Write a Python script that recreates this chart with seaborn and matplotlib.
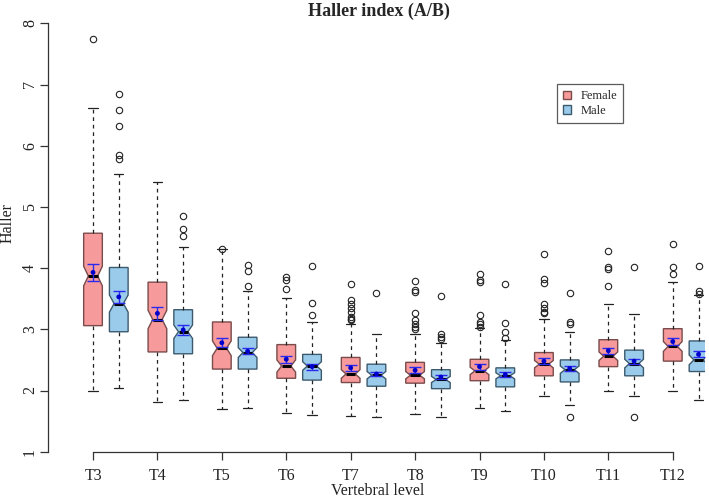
import numpy as np
import pandas as pd
import matplotlib
matplotlib.use("Agg")
import matplotlib.pyplot as plt
import seaborn as sns
from matplotlib.patches import Patch

levels = ["T3", "T4", "T5", "T6", "T7", "T8", "T9", "T10", "T11", "T12"]

# Female: box summary
f_q1 = [3.06, 2.63, 2.35, 2.20, 2.13, 2.12, 2.16, 2.24, 2.39, 2.48]
f_med = [3.87, 3.16, 2.69, 2.40, 2.27, 2.25, 2.32, 2.43, 2.56, 2.72]
f_q3 = [4.57, 3.77, 3.12, 2.75, 2.54, 2.46, 2.51, 2.62, 2.83, 3.01]
f_wlo = [2.00, 1.81, 1.69, 1.64, 1.58, 1.62, 1.72, 1.91, 1.99, 1.99]
f_whi = [6.61, 5.40, 4.32, 3.51, 3.09, 2.93, 3.02, 3.17, 3.41, 3.78]
f_notch = [0.16, 0.15, 0.12, 0.10, 0.07, 0.06, 0.06, 0.06, 0.07, 0.08]
f_mean = [3.93, 3.26, 2.78, 2.51, 2.37, 2.33, 2.39, 2.48, 2.65, 2.80]
f_err = [0.14, 0.11, 0.07, 0.06, 0.05, 0.05, 0.05, 0.05, 0.05, 0.06]
f_out = [
    [7.74],
    [],
    [4.32],
    [3.86, 3.81, 3.66],
    [3.74, 3.48, 3.42, 3.35, 3.28, 3.20, 3.17, 3.15],
    [3.79, 3.65, 3.61, 3.26, 3.15, 3.08, 3.04, 3.00],
    [3.90, 3.81, 3.78, 3.23, 3.12, 3.08, 3.04],
    [4.23, 3.83, 3.75, 3.41, 3.34, 3.29, 3.26],
    [4.28, 4.02, 3.98, 3.70],
    [4.40, 4.01, 3.91],
]

# Male
m_q1 = [2.96, 2.60, 2.35, 2.17, 2.07, 2.03, 2.06, 2.14, 2.24, 2.31]
m_med = [3.42, 2.96, 2.62, 2.40, 2.25, 2.18, 2.24, 2.34, 2.44, 2.50]
m_q3 = [4.01, 3.32, 2.87, 2.59, 2.43, 2.34, 2.37, 2.50, 2.66, 2.81]
m_wlo = [2.04, 1.85, 1.71, 1.60, 1.57, 1.57, 1.67, 1.76, 1.91, 1.85]
m_whi = [5.53, 4.34, 3.63, 3.12, 2.92, 2.77, 2.83, 2.96, 3.25, 3.56]
m_notch = [0.14, 0.11, 0.08, 0.07, 0.06, 0.05, 0.05, 0.06, 0.07, 0.08]
m_mean = [3.53, 2.99, 2.64, 2.39, 2.27, 2.22, 2.26, 2.36, 2.48, 2.59]
m_err = [0.10, 0.08, 0.05, 0.05, 0.04, 0.04, 0.04, 0.04, 0.04, 0.05]
m_out = [
    [6.84, 6.58, 6.32, 5.85, 5.78],
    [4.85, 4.64, 4.52],
    [4.05, 3.96, 3.70],
    [4.04, 3.43, 3.24],
    [3.60],
    [3.54, 2.92, 2.88, 2.84],
    [3.74, 3.10, 2.96, 2.86],
    [3.60, 3.12, 3.08, 1.57],
    [4.01, 1.56],
    [4.04, 3.62, 3.57],
]

female_col = "#F79A9B"
male_col = "#9BCBEA"
female_edge = "#7a4b4b"
male_edge = "#3c5a6e"


def make_stats(q1, med, q3, wlo, whi, notch, out):
    stats = []
    for i in range(len(q1)):
        stats.append(dict(q1=q1[i], med=med[i], q3=q3[i], whislo=wlo[i], whishi=whi[i],
                          cilo=med[i] - notch[i], cihi=med[i] + notch[i], fliers=out[i]))
    return stats


sns.set_theme(style="ticks")
plt.rcParams["font.family"] = ["Liberation Serif", "DejaVu Serif"]

fig = plt.figure(figsize=(7.09, 5.0), dpi=100)
ax = fig.add_axes([0.0673, 0.0966, 0.927, 0.8568])

pos_f = np.arange(1, len(levels) + 1)
pos_m = pos_f + 0.4

for stats, pos, fc, ec in [
    (make_stats(f_q1, f_med, f_q3, f_wlo, f_whi, f_notch, f_out), pos_f, female_col, female_edge),
    (make_stats(m_q1, m_med, m_q3, m_wlo, m_whi, m_notch, m_out), pos_m, male_col, male_edge),
]:
    ax.bxp(stats, positions=pos, widths=0.29, shownotches=True, patch_artist=True,
           showfliers=True, manage_ticks=False, capwidths=0.145,
           boxprops=dict(facecolor=fc, edgecolor=ec, linewidth=1.0),
           medianprops=dict(color="black", linewidth=2.2),
           whiskerprops=dict(color="#222222", linewidth=0.9, linestyle=(0, (3, 3))),
           capprops=dict(color="#222222", linewidth=0.9),
           flierprops=dict(marker="o", markerfacecolor="none", markeredgecolor="#222222",
                           markersize=4.6, markeredgewidth=0.8))

means = pd.DataFrame({
    "pos": np.concatenate([pos_f, pos_m]),
    "mean": f_mean + m_mean,
    "err": f_err + m_err,
})
ax.errorbar(means["pos"], means["mean"], yerr=means["err"], fmt="none",
            ecolor="#2a2aee", elinewidth=1.0, capsize=4.6, capthick=1.0, zorder=5)
sns.scatterplot(data=means, x="pos", y="mean", ax=ax, color="#0000cc", marker="o",
                s=12, edgecolor="none", zorder=6, legend=False)

ax.set_xlim(0.297, 10.5)
ax.set_ylim(1, 8)
ax.set_xticks(pos_f)
ax.set_xticklabels(levels)
ax.set_yticks(range(1, 9))
for lab in ax.get_yticklabels():
    lab.set_rotation(90)
    lab.set_va("center")
ax.tick_params(axis="both", labelsize=11.5, length=5.5, width=0.9, color="#333333",
               labelcolor="#222222", direction="out")
ax.tick_params(axis="y", pad=1.5)
ax.tick_params(axis="x", pad=6)
ax.spines["top"].set_visible(False)
ax.spines["right"].set_visible(False)
ax.spines["left"].set_bounds(1, 8)
ax.spines["bottom"].set_bounds(1, 10)
for s in ["left", "bottom"]:
    ax.spines[s].set_color("#333333")
    ax.spines[s].set_linewidth(0.9)
ax.grid(False)
ax.set_xlabel("")
ax.set_ylabel("")

fig.text(378 / 709, 1 - 491 / 500, "Vertebral level", ha="center", va="center",
         fontsize=11.5, color="#222222")
fig.text(8 / 709, 1 - 223 / 500, "Haller", ha="center", va="center", rotation=90,
         fontsize=11.5, color="#222222")
fig.text(0.535, 0.978, "Haller index (A/B)", ha="center", va="center",
         fontsize=13, fontweight="bold")

handles = [Patch(facecolor=female_col, edgecolor=female_edge, label="Female"),
           Patch(facecolor=male_col, edgecolor=male_edge, label="Male")]
leg = ax.legend(handles=handles, loc="upper left", bbox_to_anchor=(0.775, 0.858),
                fontsize=9, frameon=True, fancybox=False, handlelength=0.65,
                handleheight=0.65, handletextpad=0.7, borderpad=0.5, labelspacing=0.2,
                borderaxespad=0)
leg.get_frame().set_edgecolor("#333333")
leg.get_frame().set_linewidth(0.9)

fig.savefig("out.png", dpi=100)
